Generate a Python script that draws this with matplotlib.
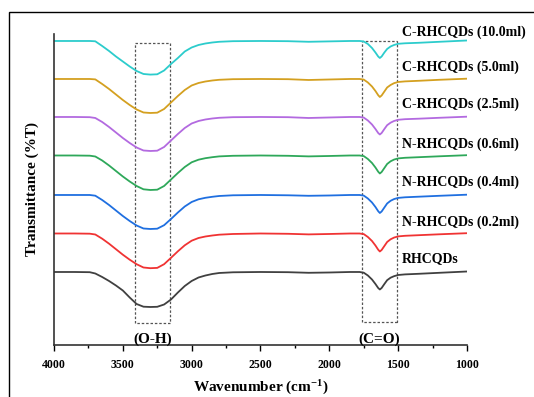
import matplotlib
matplotlib.use('Agg')
import matplotlib.pyplot as plt
from matplotlib.patches import Rectangle
import numpy as np

plt.rcParams['font.family'] = 'Liberation Serif'
plt.rcParams['font.weight'] = 'bold'
plt.rcParams['mathtext.fontset'] = 'custom'
plt.rcParams['mathtext.rm'] = 'Liberation Serif:bold'
plt.rcParams['mathtext.default'] = 'rm'

# FTIR spectra, stacked (a.u.)
wavenumber = [4000, 3850, 3740, 3700, 3650, 3600, 3550, 3500, 3450, 3400, 3350, 3300,
              3250, 3200, 3150, 3100, 3050, 3000, 2950, 2900, 2850, 2800, 2700, 2500,
              2300, 2150, 2000, 1850, 1780, 1750, 1720, 1690, 1665, 1645, 1633, 1620,
              1600, 1580, 1555, 1530, 1500, 1450, 1350, 1200, 1000]

c_10 = [304, 304, 304, 303.7, 299, 294, 288.5, 283.5, 278.5, 274, 271, 270.4,
        270.7, 274.5, 281, 287, 293.5, 297.5, 300, 301.5, 302.5, 303.2, 303.8, 304,
        303.8, 303.2, 303.6, 304, 304, 303.5, 301, 297, 292.5, 288.5, 287, 288.5,
        292.5, 296, 298.5, 300, 301.2, 301.7, 302.2, 303.2, 304.5]
c_5 = [266, 266, 266, 265.6, 261, 256, 250.5, 245, 240, 235.5, 232.5, 232,
       232.3, 236, 242.5, 249, 255, 259.5, 262, 263.5, 264.5, 265.2, 265.8, 266,
       265.8, 265, 265.5, 266, 266, 265.4, 262.5, 258.5, 254, 249.8, 248, 249.5,
       253.5, 257.5, 260, 261.8, 263, 263.6, 264.2, 265.2, 266.3]
c_25 = [228, 228, 227.8, 227, 223, 218, 212.5, 207, 202, 197.5, 194.5, 194,
        194.3, 198, 204.5, 211, 217, 221.5, 224, 225.5, 226.5, 227.2, 227.8, 228,
        227.8, 227, 227.5, 228, 228, 227.4, 224.5, 220.5, 216, 212, 210.5, 212,
        216, 219.8, 222.3, 224, 225.2, 225.8, 226.3, 227.2, 228.3]
n_06 = [189.5, 189.5, 189.3, 188.5, 184.5, 179.5, 174, 168.5, 163.5, 159, 155.7, 155,
        155.3, 159, 165.5, 172, 178, 182.7, 185.3, 186.8, 187.8, 188.6, 189.2, 189.5,
        189.2, 188.6, 189, 189.5, 189.5, 188.9, 186, 182, 177.5, 173.3, 171.5, 173,
        177, 181, 183.7, 185.4, 186.6, 187.2, 187.8, 188.7, 189.8]
n_04 = [150, 150, 150, 149.3, 145, 140, 134.5, 129, 124, 119.5, 116.5, 116,
        116.3, 119.8, 126, 132.5, 138.5, 143, 145.7, 147.2, 148.2, 149, 149.7, 150,
        149.7, 149.2, 149.5, 150, 150, 149.4, 146.5, 142.5, 138, 133.8, 132, 133.5,
        137.5, 141.5, 144.2, 145.9, 147.1, 147.7, 148.3, 149.2, 150.3]
n_02 = [111.5, 111.5, 111.3, 110.5, 106.3, 101.3, 95.8, 90.3, 85.3, 80.8, 77.5, 76.8,
        77.1, 80.8, 87.2, 93.7, 99.7, 104.3, 107, 108.5, 109.5, 110.3, 111, 111.5,
        111.2, 110.6, 111, 111.5, 111.5, 110.9, 108, 104, 99.5, 95.3, 93.5, 95,
        99, 103, 105.7, 107.4, 108.6, 109.2, 109.8, 110.7, 111.8]
rhcqds = [73, 73, 72.8, 71.5, 68, 64, 59.5, 54.5, 47.5, 41, 38.3, 38,
          38.2, 40.5, 45.5, 52.5, 59, 64, 67.5, 69.5, 71, 72, 72.7, 73,
          72.8, 72.2, 72.5, 73, 73, 72.3, 69.5, 65.5, 61, 57, 55.5, 57,
          61, 64.8, 67.3, 68.8, 70, 70.6, 71.2, 72.2, 73.5]

series = [c_10, c_5, c_25, n_06, n_04, n_02, rhcqds]
labels = ['C-RHCQDs (10.0ml)', 'C-RHCQDs (5.0ml)', 'C-RHCQDs (2.5ml)',
          'N-RHCQDs (0.6ml)', 'N-RHCQDs (0.4ml)', 'N-RHCQDs (0.2ml)', 'RHCQDs']
colors = ['#2ccccc', '#d4a020', '#b36ae0', '#2ea85a', '#1f6fe0', '#f03333', '#404040']
label_y = [313, 278, 241, 201, 163, 123, 86]

fig = plt.figure(figsize=(5.34, 3.97), dpi=100)
ax = fig.add_axes([0.1011, 0.131, 0.7734, 0.7834])

for vals, col in zip(series, colors):
    ax.plot(wavenumber, vals, c=col, lw=1.3)

for lab, yy in zip(labels, label_y):
    ax.text(1475, yy, lab, fontsize=10, fontweight='bold', va='center', ha='left',
            clip_on=False)

# band boxes
ax.add_patch(Rectangle((3158, 22), 3412 - 3158, 280.3, fill=False, ls=(0, (2, 1.5)),
                       lw=0.9, ec='#555555'))
ax.add_patch(Rectangle((1509, 23), 1766 - 1509, 281, fill=False, ls=(0, (2, 1.5)),
                       lw=0.9, ec='#555555'))
ax.text(3285, 6, '(O-H)', fontsize=11, fontweight='bold', ha='center', va='center')
ax.text(1637, 6, '(C=O)', fontsize=11, fontweight='bold', ha='center', va='center')

ax.set_xlim(4000, 1000)
ax.set_ylim(0, 311)
ax.set_xticks(np.arange(4000, 999, -500))
ax.set_xticks(np.arange(3750, 1000, -500), minor=True)
ax.set_yticks([])
ax.tick_params(axis='x', which='major', direction='out', length=4, width=1, labelsize=8.5, pad=6)
ax.tick_params(axis='x', which='minor', direction='out', length=2, width=1)
for t in ax.get_xticklabels():
    t.set_fontweight('bold')
for s in ['top', 'right']:
    ax.spines[s].set_visible(False)
for s in ['left', 'bottom']:
    ax.spines[s].set_linewidth(1.2)
    ax.spines[s].set_color('#333333')

ax.set_xlabel('Wavenumber (cm$^{-1}$)', fontsize=11, fontweight='bold', labelpad=5.5)
ax.set_ylabel('Transmittance (%T)', fontsize=11, fontweight='bold', labelpad=11)

# outer frame
fig.add_artist(Rectangle((8.5 / 534, -0.1), 1.2, 1 - 12 / 397 + 0.1, transform=fig.transFigure,
                         fill=False, lw=1, ec='black'))

fig.savefig('out.png', dpi=100)
